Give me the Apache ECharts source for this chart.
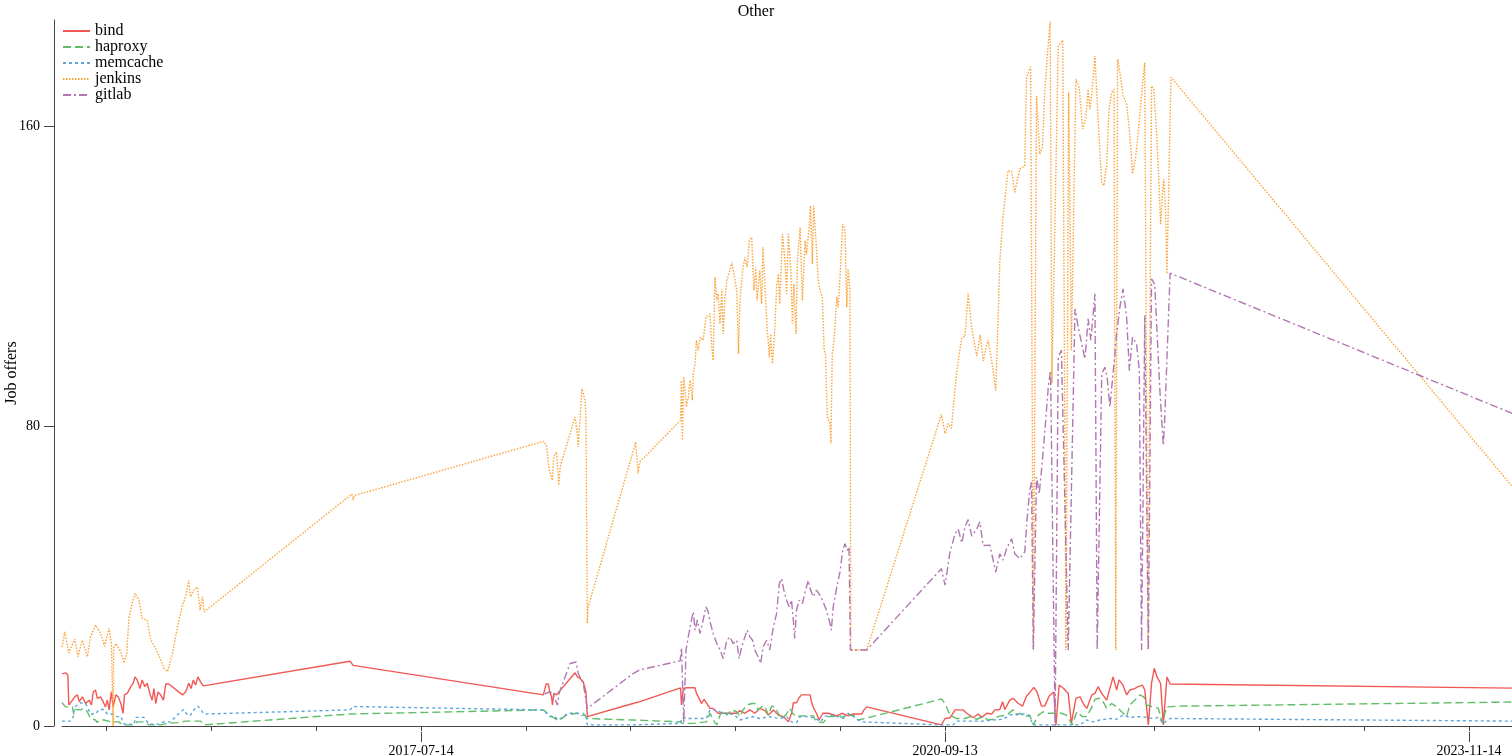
<!DOCTYPE html>
<html><head><meta charset="utf-8">
<script src="https://cdn.jsdelivr.net/npm/echarts@6/dist/echarts.min.js"></script>
<style>html,body{margin:0;padding:0;background:#fff}#c{width:1512px;height:756px}</style>
</head><body><div id="c"></div>
<script>
// ---- data (day offsets from startDate, values = job offers) ----
const startDate = '2015-05-13';
const endDay = 3202;
const labeledTicks = ['2017-07-14', '2020-09-13', '2023-11-14'];
const yTicks = [0, 80, 160];
const seriesNames = ['bind', 'haproxy', 'memcache', 'jenkins', 'gitlab'];

const bindDays = [0,8,13,15,23,28,34,38,45,52,60,65,69,74,78,85,91,96,100,104,109,113,119,124,130,135,138,144,152,157,161,166,172,177,183,188,194,199,203,207,212,218,224,229,236,266,273,280,285,290,295,300,306,312,636,640,643,645,1063,1069,1074,1077,1081,1083,1086,1092,1133,1138,1144,1151,1157,1160,1261,1276,1366,1368,1372,1379,1398,1401,1407,1412,1418,1423,1431,1438,1449,1475,1490,1497,1508,1519,1530,1541,1552,1560,1571,1582,1593,1604,1611,1615,1622,1628,1633,1652,1655,1660,1666,1672,1680,1692,1711,1722,1736,1747,1766,1771,1777,1942,1950,1961,1972,1990,1998,2012,2023,2031,2042,2053,2060,2071,2077,2082,2093,2100,2112,2121,2130,2137,2146,2153,2163,2170,2180,2190,2195,2202,2212,2222,2229,2239,2248,2257,2263,2274,2281,2288,2296,2307,2321,2329,2334,2343,2351,2358,2369,2376,2386,2391,2399,2406,2412,2418,2426,2432,2440,2447,3202];
const bindValues = [13.9,14.2,13.6,5.6,6.9,7.8,8.3,6.5,7.8,6,6.9,5.6,9.1,9.6,7.4,7.8,6.5,5.1,6.9,4.3,9.1,5.1,8.3,7.8,6,3.4,8.3,8.7,10.5,11.4,13.1,12.3,10,12.3,10.5,11.4,8.7,6.9,10,6,9.1,8.3,6.9,11.2,11.2,8.3,9.1,11.4,10,12.3,10.9,13.1,11.8,10.7,17.3,17.1,16.2,16.3,8.3,11.2,11.2,9.1,7.8,5.6,8.7,8.3,14.2,13.1,12.7,11.8,9.1,2.5,6,6.5,10.2,5.6,10,10.2,10.2,8.7,7.4,6,7.1,6.2,4.7,4.7,3.4,3.4,3.4,4.1,3.4,4.3,3.4,4.7,4.1,2.9,4.3,2.9,2.5,1.1,3.4,6.2,6.2,7.6,8.3,8.3,6.5,4.7,3.4,1.6,3.4,3.4,2.7,3.4,2.7,3.2,3.2,4.3,5.1,0.3,2,2.2,4.3,4.3,3.4,2.2,3.2,2.3,3.4,3.2,4.3,4.4,6.5,4.4,6.9,7.4,6,5.3,8,8.9,10.3,9.1,5.3,5.3,8,9.1,0.3,10.9,10,8.7,0.7,7.4,7.8,5.6,4.7,8.3,8.7,10.5,8.7,6.9,13.1,9.6,12.3,10.9,8.3,9.6,10,10.5,10.9,9.6,0.3,11.4,15.4,13.1,11.4,0.3,13.1,11.2,10.1];

const haproxyDays = [0,8,23,26,30,41,49,56,63,74,78,82,93,108,126,133,159,166,181,192,218,233,255,273,306,314,636,1063,1066,1077,1096,1114,1136,1151,1160,1261,1365,1370,1394,1423,1431,1438,1446,1453,1460,1468,1479,1490,1497,1504,1513,1523,1530,1537,1545,1552,1560,1567,1574,1582,1589,1598,1607,1613,1622,1630,1659,1666,1681,1692,1703,1718,1725,1733,1744,1751,1758,1773,1942,1950,1961,1975,1994,2005,2020,2034,2045,2056,2067,2086,2100,2108,2115,2126,2137,2145,2156,2167,2178,2196,2207,2218,2231,2241,2253,2262,2273,2281,2290,2299,2307,2318,2329,2340,2351,2358,2369,2380,2389,2395,2410,2421,2430,2439,2468,3202];
const haproxyValues = [6.2,5.1,5.1,3.2,4.4,4.3,4.7,3.8,2,1.6,0.9,1.6,1.6,1.1,1.1,0.3,0.3,1.1,1.1,0.3,0.3,0.7,0.9,1.3,1.3,0.3,3.2,4.3,4.3,2.9,1.4,2.9,3.4,3.4,2,1.6,1.1,0.7,0.7,1.1,3.4,1.6,0.3,2.9,4.1,2.9,4.3,3.8,2.5,4.3,5.6,6,6,4.3,5.1,5.3,2.9,5.3,5.1,3.4,2,2.9,4.7,3.4,2.5,2.7,2.7,1.1,0.9,2.5,2.5,2.7,2,3.4,2.7,2.9,1.6,2,7.2,6,2.9,2,2,2.5,1.8,2.5,1.6,1.8,2.5,2.9,4.3,2.9,3.4,2.5,2.9,0.3,2.9,3.8,3.4,3.4,3.4,2.9,0.3,3.8,2.5,2.5,4.7,7.1,7.4,6.5,4.7,6,5.1,3.8,2.5,5.6,6.9,8.3,7.8,5.6,5.1,4.7,0.7,5.1,5.3,6.4];

const memcacheDays = [0,19,25,28,34,41,52,56,63,74,82,93,100,111,122,130,137,159,163,181,192,214,225,240,251,262,269,277,284,291,300,306,314,636,643,1063,1070,1077,1089,1096,1107,1118,1136,1148,1157,1160,1261,1365,1370,1379,1423,1431,1442,1449,1457,1471,1486,1497,1508,1526,1541,1563,1585,1600,1611,1622,1630,1644,1663,1674,1685,1696,1711,1729,1736,1744,1758,1769,1939,1968,1975,2034,2056,2078,2093,2104,2123,2134,2145,2182,2248,2262,2277,2292,2314,2329,2343,2358,2380,2395,2410,2421,2432,2447,3202];
const memcacheValues = [1.3,1.3,2.5,5.1,5.6,6.2,6,5.1,3.2,3.2,4.4,4.4,3.2,3.2,2.5,2.5,0.5,0.5,2.3,2.3,0.5,0.5,1.1,1.1,2.5,3.8,4.4,2.9,2.9,4.3,5.3,4.4,3.2,4.3,5.2,4.3,3.4,2.5,2.5,1.6,2.5,3.4,3.4,2.9,2.9,0.3,0.3,0.7,2.3,2,2,4.3,4.3,4.1,3.4,3.4,2.9,1.6,2,2.5,2,2.5,2,2.5,1.1,0.9,2.5,2.5,2.2,1.1,2.5,2.9,2.5,2.5,3.4,2.9,1.6,1.1,0.3,0.3,1.3,1.3,1.6,1.8,2.9,3.2,3.2,2.9,0.3,0.3,0.3,1.6,1.1,1.6,2,1.8,2.9,2.3,2.5,2.3,2,2.3,0.7,2,1.3];

const jenkinsDays = [0,6,15,28,35,45,56,63,74,85,94,104,109,112,113,114,119,130,137,143,148,155,161,170,177,188,196,207,218,225,233,244,255,266,273,280,284,291,299,305,310,314,640,643,645,1063,1070,1075,1083,1086,1092,1097,1100,1133,1138,1140,1148,1155,1157,1160,1162,1267,1272,1276,1366,1368,1370,1373,1379,1383,1387,1392,1394,1398,1401,1405,1409,1416,1422,1431,1435,1438,1442,1446,1449,1453,1457,1460,1464,1468,1475,1479,1484,1490,1494,1497,1503,1508,1513,1518,1523,1528,1532,1535,1541,1545,1548,1554,1557,1562,1565,1569,1574,1578,1582,1585,1591,1596,1600,1604,1609,1613,1616,1621,1624,1630,1635,1641,1644,1650,1653,1657,1660,1665,1670,1674,1679,1683,1686,1690,1696,1698,1701,1705,1711,1714,1718,1724,1729,1733,1736,1740,1742,1777,1942,1950,1957,1964,1976,1987,1994,2001,2009,2020,2028,2034,2045,2053,2062,2071,2078,2089,2097,2104,2115,2126,2130,2139,2145,2152,2159,2165,2170,2176,2182,2186,2200,2210,2217,2223,2229,2239,2246,2254,2261,2266,2270,2274,2281,2288,2296,2301,2307,2312,2318,2323,2327,2331,2338,2343,2351,2358,2364,2371,2379,2386,2391,2398,2406,2411,2417,2422,2426,2430,2433,2437,2440,2449,3202];
const jenkinsValues = [21.1,25.1,19.5,23.2,18.5,22.9,18.5,23.8,26.9,24.8,21.3,26.1,22.1,22,0,21,22,19.8,16.8,19.5,29.1,32.7,35.4,33.6,28.7,28.3,22.9,20.7,17.6,15.4,14.5,19.4,26.5,32.3,34.5,38.9,34.5,36.3,37.1,30.9,34.5,30.5,61.9,60.3,61.5,76,74.9,69,65.6,72,73.2,64.3,69.2,82.5,78,74.5,90,87,82.5,27.4,31.8,75.8,67.4,70.5,81.6,92.3,76.3,93.2,85.2,87.8,92.3,87,94,96.7,103,100.3,103.8,103,109.2,110,101,97.6,119.8,113.6,115.4,107.4,116.7,104.7,114.5,118.9,121.6,123.8,120.7,116.3,99.4,113.6,121.6,125.1,122.5,129.6,130.5,116.3,122.5,113.6,121.6,112.7,127.8,113.6,106.5,98.5,104.7,96.7,105.6,117.2,120.7,112.7,131.4,125.1,115.4,131.4,122.5,107.4,118,104.7,124.3,133.1,113.6,129.6,126,133.1,138.9,123.4,138.9,129.6,118.9,116.3,114.5,100.3,99.4,82.5,80.7,75.4,99.4,103,114.5,111.8,119.8,134,132.3,111.8,122,116.3,20.3,20.3,83.2,78.1,80.7,79.5,95,103.7,104,115.6,106.2,98.8,104.4,97.5,103.1,97.5,89.6,124,135.8,148.3,148.1,142.5,148.7,149.6,173.2,176,20.3,168.3,152.7,154.5,168.7,179.4,188.1,91.5,181.6,183.1,20.3,169.2,100.3,172.7,170.5,159.4,162.5,170,164.7,168.7,178.9,161.6,145.1,144.3,150,164.3,169.2,170,20.3,178,173.2,168.3,166,158,147.4,151.8,161.6,171.4,177.1,20.3,170.9,170,158.9,146.5,134,142,146,137.6,120.7,173.2,64];

const gitlabDays = [1066,1077,1085,1094,1098,1122,1135,1140,1151,1160,1261,1276,1365,1368,1373,1378,1383,1390,1394,1398,1403,1409,1415,1422,1427,1432,1438,1446,1453,1460,1468,1475,1482,1490,1495,1501,1508,1513,1519,1525,1530,1537,1543,1548,1556,1563,1571,1578,1584,1589,1594,1600,1606,1611,1615,1618,1622,1628,1635,1641,1648,1653,1659,1666,1674,1681,1688,1696,1699,1703,1711,1718,1724,1729,1734,1738,1741,1777,1942,1950,1961,1972,1979,1987,1994,2001,2009,2020,2027,2034,2049,2062,2071,2078,2086,2097,2104,2115,2126,2131,2137,2141,2145,2152,2158,2163,2170,2178,2183,2193,2200,2207,2222,2237,2244,2259,2266,2272,2281,2286,2296,2303,2308,2314,2321,2329,2336,2343,2351,2357,2364,2373,2379,2384,2391,2399,2406,2413,2424,2432,2435,2447,3202];
const gitlabValues = [8.5,9.2,8.3,5.6,8.8,16.7,17.1,14,11.4,4.7,14,15,17.4,20.9,0.8,20.3,23.8,28.3,30.5,25.6,28.3,24.7,27.8,31.8,30.5,27.4,24.7,22,20.3,18,22.9,23.8,22,22.9,18,21.1,23.8,25.6,23.8,22.9,20.3,18.5,16.7,21.1,22.9,20.3,26.5,30,38,39.4,36.3,33.6,31.8,33.6,28.3,23.4,30.9,33.6,32.7,35.8,38.9,36.3,34.5,36.3,34.9,33.1,30.9,27.4,25.6,31.8,37.1,41.1,46.9,48.7,46.9,47.8,20.3,20.3,42,37.6,46.4,51.3,52.6,48.9,53.2,55.1,50.7,52.6,54.5,48.2,48.3,41.1,46,44.3,47.4,50,46,44.7,46.5,54.9,62.9,65.1,20.3,66.5,62,68.3,78,90.5,94.9,0,98.5,100.3,20.3,111.4,106.5,98,108.7,103,115.4,20.3,94,95.8,93.2,85.2,94,104.7,111.8,116.7,109.2,94.9,103.8,102,94.9,20.3,109.6,20.3,119.4,118,90.5,74.9,81.6,120.9,83.5];

// ---- build ----
const DAY = 86400000;
const t0 = Date.parse(startDate + 'T00:00:00Z');
const toT = d => t0 + d * DAY;
const pairs = (days, vals) => days.map((d, i) => [toT(d), vals[i]]);
const labelT = labeledTicks.map(s => Date.parse(s + 'T00:00:00Z'));
const xMin = toT(0), xMax = toT(endDay);
const step = (labelT[1] - labelT[0]) / 5;
const allTicks = [];
for (let k = Math.ceil((xMin - labelT[0]) / step); labelT[0] + k * step <= xMax; k++) allTicks.push(labelT[0] + k * step);

const FONT = 'Liberation Serif';
const styles = {
  bind:     {color: '#F15854', type: 'solid'},
  haproxy:  {color: '#60BD68', type: [8, 4]},
  memcache: {color: '#5DA5DA', type: [3, 3]},
  jenkins:  {color: '#FAA43A', type: [1.5, 1.5]},
  gitlab:   {color: '#B276B2', type: [8, 3, 2, 3]}
};
const dataMap = {
  bind: pairs(bindDays, bindValues),
  haproxy: pairs(haproxyDays, haproxyValues),
  memcache: pairs(memcacheDays, memcacheValues),
  jenkins: pairs(jenkinsDays, jenkinsValues),
  gitlab: pairs(gitlabDays, gitlabValues)
};

const chart = echarts.init(document.getElementById('c'), null, {renderer: 'canvas'});
const axisColor = '#444';
const baseX = {
  type: 'value', min: xMin, max: xMax, gridIndex: 0, position: 'bottom', offset: 6,
  splitLine: {show: false}
};
chart.setOption({
  animation: false,
  backgroundColor: '#fff',
  title: {text: 'Other', left: 'center', top: -1,
    textStyle: {fontFamily: FONT, fontSize: 16, fontWeight: 'normal', color: '#000'}},
  legend: {
    data: seriesNames, orient: 'vertical', left: 62, top: 23, padding: 0,
    itemWidth: 27, itemHeight: 10, itemGap: 0,
    itemStyle: {opacity: 0, color: 'rgba(0,0,0,0)', borderWidth: 0},
    textStyle: {fontFamily: FONT, fontSize: 16, color: '#000', lineHeight: 16}
  },
  grid: {left: 62, right: 0, top: 20, bottom: 30, containLabel: false, outerBoundsMode: 'none'},
  xAxis: [
    Object.assign({}, baseX, {
      axisLine: {show: true, lineStyle: {color: axisColor, width: 1}},
      axisTick: {show: true, length: 5, customValues: allTicks, lineStyle: {color: axisColor}},
      axisLabel: {show: false}
    }),
    Object.assign({}, baseX, {
      axisLine: {show: false},
      axisTick: {show: true, length: 10, customValues: labelT, lineStyle: {color: axisColor}},
      axisLabel: {show: true, customValues: labelT, margin: 12,
        fontFamily: FONT, fontSize: 14, color: '#000',
        formatter: v => { const i = labelT.findIndex(t => Math.abs(t - v) < DAY); return i >= 0 ? labeledTicks[i] : ''; }}
    })
  ],
  yAxis: {
    type: 'value', min: 0, max: 188.5, offset: 8,
    name: 'Job offers', nameLocation: 'middle', nameGap: 34, nameRotate: 90, nameMoveOverlap: false,
    nameTextStyle: {fontFamily: FONT, fontSize: 16, color: '#000'},
    splitLine: {show: false},
    axisLine: {show: true, lineStyle: {color: axisColor, width: 1}},
    axisTick: {show: true, length: 10, customValues: yTicks, lineStyle: {color: axisColor}},
    axisLabel: {customValues: yTicks, margin: 14, fontFamily: FONT, fontSize: 14, color: '#000'}
  },
  series: seriesNames.map(n => ({
    name: n, type: 'line', xAxisIndex: 0, yAxisIndex: 0,
    data: dataMap[n], symbol: 'none', showSymbol: false,
    lineStyle: {color: styles[n].color, width: 1.4, type: styles[n].type},
    itemStyle: {color: styles[n].color},
    emphasis: {disabled: true}
  }))
});
</script></body></html>
